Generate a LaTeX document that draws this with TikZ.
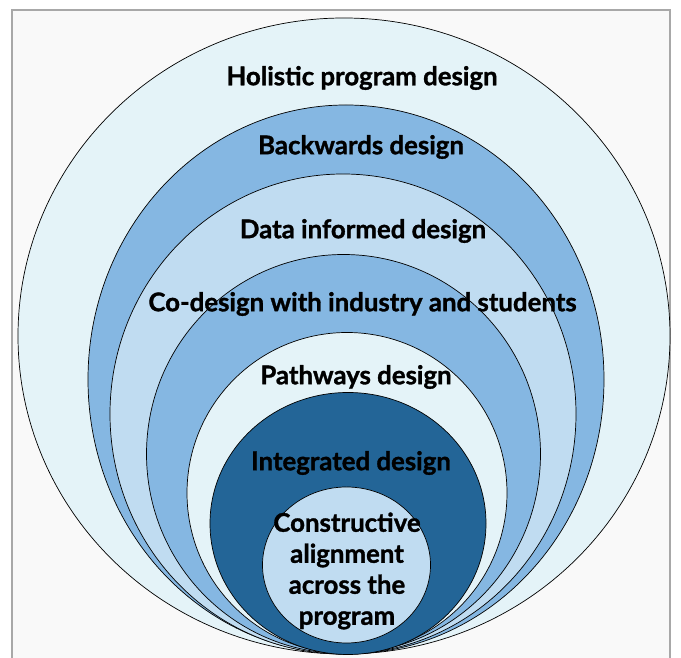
\documentclass[tikz,border=0pt]{standalone}
\usepackage{fontspec}
\setmainfont{Lato}[BoldFeatures={FakeBold=1.2}]
\definecolor{bgcol}{HTML}{F9F9F9}
\definecolor{lightc}{HTML}{E4F3F8}
\definecolor{midb}{HTML}{85B7E2}
\definecolor{paleb}{HTML}{C0DCF1}
\definecolor{darkb}{HTML}{236597}
\definecolor{framec}{HTML}{A8A8A8}
\begin{document}
\begin{tikzpicture}[x=1pt,y=1pt,
  ring/.style={draw=black,line width=0.7pt},
  lbl/.style={font=\fontsize{25.8}{31}\selectfont\bfseries,text=black,inner sep=0pt,align=center}]
\useasboundingbox (0,0) rectangle (681,658);
\fill[white] (0,0) rectangle (681,658);
\draw[framec,line width=1.3pt,fill=bgcol] (12,-10) rectangle (670,648);
% ellipses: centre (cx, 658-cy_img)
\path[ring,fill=lightc] (344,{658-336}) ellipse [x radius=326,y radius=318];
\path[ring,fill=midb] (346,{658-379.5}) ellipse [x radius=258,y radius=274.5];
\path[ring,fill=paleb] (343,{658-414}) ellipse [x radius=233,y radius=240];
\path[ring,fill=midb] (343.5,{658-454}) ellipse [x radius=197,y radius=199.5];
\path[ring,fill=lightc] (347,{658-493}) ellipse [x radius=160,y radius=160.5];
\path[ring,fill=darkb] (348,{658-523.5}) ellipse [x radius=138,y radius=131];
\path[ring,fill=paleb] (346.5,{658-565}) ellipse [x radius=84,y radius=78];
\node[lbl] (l1) at (362,{658-78}) {Holistic program design};
\node[lbl] (l2) at (361,{658-147}) {Backwards design};
\node[lbl] (l3) at (363,{658-231}) {Data informed design};
\node[lbl] (l4) at (362.5,{658-304}) {Co-design with industry and students};
\node[lbl] (l5) at (356,{658-377}) {Pathways design};
\node[lbl] (l6) at (351,{658-463}) {Integrated design};
\node[lbl] (l7) at (347,{658-571}) {Constructive\\alignment\\across the\\program};
\end{tikzpicture}
\end{document}
